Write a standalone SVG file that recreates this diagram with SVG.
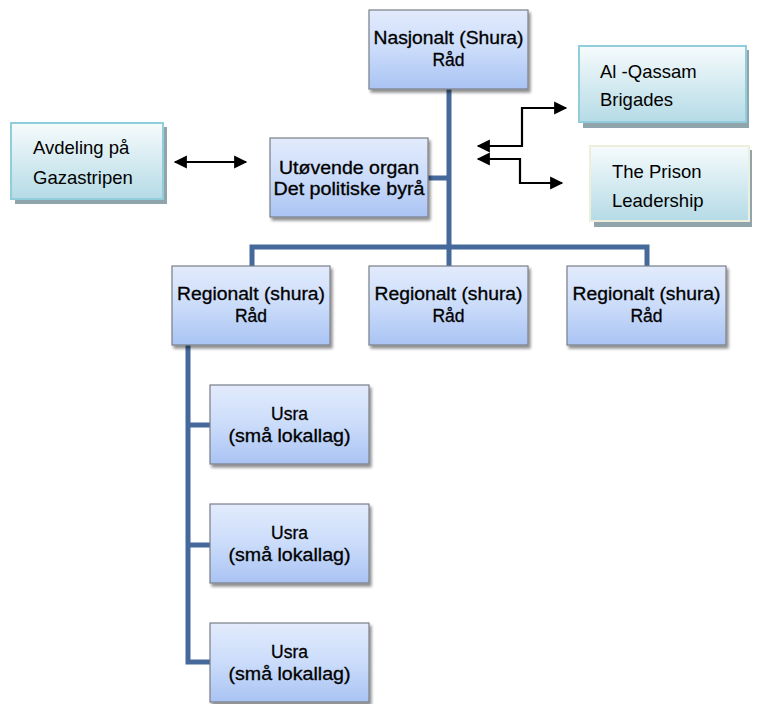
<svg xmlns="http://www.w3.org/2000/svg" width="761" height="704" viewBox="0 0 761 704">
<defs>
<linearGradient id="gb" x1="0" y1="0" x2="0" y2="1">
<stop offset="0" stop-color="#e2ebfc"/>
<stop offset="0.5" stop-color="#cbdcfa"/>
<stop offset="1" stop-color="#a9c3f3"/>
</linearGradient>
<linearGradient id="gc" x1="0" y1="0" x2="0" y2="1">
<stop offset="0" stop-color="#f6fbfc"/>
<stop offset="1" stop-color="#b5dbe6"/>
</linearGradient>
<filter id="sh" x="-10%" y="-10%" width="125%" height="130%">
<feGaussianBlur in="SourceAlpha" stdDeviation="1.5"/>
<feOffset dx="2" dy="3" result="b"/>
<feComponentTransfer><feFuncA type="linear" slope="0.45"/></feComponentTransfer>
<feMerge><feMergeNode/><feMergeNode in="SourceGraphic"/></feMerge>
</filter>
<marker id="ah" viewBox="0 0 10 10" refX="9" refY="5" markerWidth="7" markerHeight="6" orient="auto-start-reverse" markerUnits="strokeWidth">
<path d="M0,0 L10,5 L0,10 Z" fill="#000"/>
</marker>
</defs>
<style>
.box{fill:url(#gb);stroke:#7a7f88;stroke-width:1.2;filter:url(#sh)}
.cbox{fill:url(#gc);stroke:#92cddc;stroke-width:2}
.pbox{fill:url(#gc);stroke:#eeeedc;stroke-width:2}
.csh{fill:#8fa4ab}
.t{font-family:"Liberation Sans",Arial,sans-serif;font-size:17.5px;fill:#000;stroke:#000;stroke-width:0.3;text-anchor:middle}
.tl{font-family:"Liberation Sans",Arial,sans-serif;font-size:18.5px;fill:#000}
.conn{stroke:#44699a;stroke-width:5;fill:none}
.arr{stroke:#000;stroke-width:2.2;fill:none}
</style>
<rect width="761" height="704" fill="#fff"/>
<g id="connectors">
<path class="conn" d="M449,89 V247"/>
<path class="conn" d="M428,178 H449"/>
<path class="conn" d="M252,266 V247 H647 V266"/>
<path class="conn" d="M449,247 V266"/>
<path class="conn" d="M188,345 V662 H210"/>
<path class="conn" d="M188,425 H210"/>
<path class="conn" d="M188,545 H210"/>
<path class="arr" d="M175,162 H246" marker-start="url(#ah)" marker-end="url(#ah)"/>
<path class="arr" d="M478,146 H522 V108 H566" marker-start="url(#ah)" marker-end="url(#ah)"/>
<path class="arr" d="M478,159 H520 V183 H562" marker-start="url(#ah)" marker-end="url(#ah)"/>
</g>
<g id="nasjonalt">
<rect class="box" x="369" y="10" width="159" height="79"/>
<text class="t" x="448.5" y="44" textLength="150" lengthAdjust="spacingAndGlyphs">Nasjonalt (Shura)</text>
<text class="t" x="448.5" y="66">Råd</text>
</g>
<g id="utovende">
<rect class="box" x="270" y="138" width="158" height="79"/>
<text class="t" x="349" y="173.5" textLength="140" lengthAdjust="spacingAndGlyphs">Utøvende organ</text>
<text class="t" x="349" y="195" textLength="151" lengthAdjust="spacingAndGlyphs">Det politiske byrå</text>
</g>
<g id="avdeling">
<rect class="csh" x="15" y="127" width="152" height="77"/>
<rect class="cbox" x="11" y="123" width="152" height="76"/>
<text class="tl" x="33" y="154">Avdeling på</text>
<text class="tl" x="33" y="183.5">Gazastripen</text>
</g>
<g id="qassam">
<rect class="csh" x="583" y="50" width="166" height="78"/>
<rect class="cbox" x="579" y="46" width="167" height="76"/>
<text class="tl" x="600" y="78">Al -Qassam</text>
<text class="tl" x="600" y="106">Brigades</text>
</g>
<g id="prison">
<rect class="csh" x="594" y="150" width="158" height="77"/>
<rect class="pbox" x="590" y="146" width="159" height="75"/>
<text class="tl" x="612" y="178">The Prison</text>
<text class="tl" x="612" y="207">Leadership</text>
</g>
<g id="regional1">
<rect class="box" x="172" y="266" width="158" height="79"/>
<text class="t" x="251" y="300" textLength="148" lengthAdjust="spacingAndGlyphs">Regionalt (shura)</text>
<text class="t" x="251" y="322">Råd</text>
</g>
<g id="regional2">
<rect class="box" x="369" y="266" width="159" height="79"/>
<text class="t" x="448.5" y="300" textLength="148" lengthAdjust="spacingAndGlyphs">Regionalt (shura)</text>
<text class="t" x="448.5" y="322">Råd</text>
</g>
<g id="regional3">
<rect class="box" x="567" y="266" width="159" height="79"/>
<text class="t" x="646.5" y="300" textLength="148" lengthAdjust="spacingAndGlyphs">Regionalt (shura)</text>
<text class="t" x="646.5" y="322">Råd</text>
</g>
<g id="usra1">
<rect class="box" x="210" y="385" width="159" height="79"/>
<text class="t" x="289.5" y="420">Usra</text>
<text class="t" x="289.5" y="442" textLength="122" lengthAdjust="spacingAndGlyphs">(små lokallag)</text>
</g>
<g id="usra2">
<rect class="box" x="210" y="504" width="159" height="79"/>
<text class="t" x="289.5" y="539">Usra</text>
<text class="t" x="289.5" y="561" textLength="122" lengthAdjust="spacingAndGlyphs">(små lokallag)</text>
</g>
<g id="usra3">
<rect class="box" x="210" y="623" width="159" height="79"/>
<text class="t" x="289.5" y="658">Usra</text>
<text class="t" x="289.5" y="680" textLength="122" lengthAdjust="spacingAndGlyphs">(små lokallag)</text>
</g>
</svg>
